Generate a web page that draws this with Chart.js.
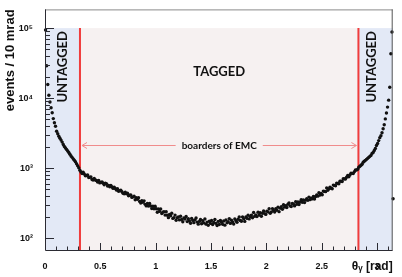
<!DOCTYPE html>
<html>
<head>
<meta charset="utf-8">
<script src="https://cdn.jsdelivr.net/npm/chart.js@4.4.1/dist/chart.umd.min.js"></script>
<style>
  html, body { margin: 0; padding: 0; background: #fff; }
  #wrap { width: 402px; height: 277px; }
</style>
</head>
<body>
<div id="wrap"><canvas id="myChart"></canvas></div>
<script>
// histogram: events per 10 mrad bin, starting at theta = 0
const binWidth = 0.01;
const counts = [
  // 0 - 31 (untagged, left)
  94000, 29000, 15700, 11000, 8800, 7300, 6200,
  5110, 4450, 3980, 3370, 3110, 2860, 2680, 2520, 2360, 2180, 2040, 1940, 1850, 1760,
  1680, 1580, 1500, 1430, 1360, 1300, 1235, 1160, 1085, 1015, 937,
  // 32 - 80
  886, 838, 875, 826, 781, 789, 801, 736, 742, 752, 691, 678, 712, 678, 669, 637, 669, 617,
  627, 639, 611, 582, 613, 603, 558, 568, 542, 569, 540, 515, 538, 513, 487, 511, 469, 478,
  486, 463, 440, 432, 453, 432, 439, 405, 411, 417, 383, 390, 397,
  // 81 - 240
  354, 380, 361, 378, 336, 319, 344, 327, 342, 305, 290, 314, 289, 314, 289, 265, 287, 264,
  286, 264, 235, 262, 242, 262, 226, 236, 240, 214, 239, 213, 197, 219, 210, 228, 192, 197,
  214, 181, 197, 202, 183, 206, 186, 172, 195, 188, 205, 173, 190, 177, 164, 192, 180, 167,
  183, 195, 170, 159, 174, 185, 161, 178, 166, 188, 159, 170, 153, 175, 163, 179, 157, 168,
  185, 163, 152, 174, 157, 179, 169, 158, 176, 154, 182, 166, 172, 191, 163, 181, 170, 160,
  189, 178, 169, 187, 202, 179, 175, 202, 190, 174, 201, 192, 213, 189, 204, 214, 196, 233,
  206, 215, 204, 235, 215, 231, 206, 228, 245, 225, 219, 244, 238, 264, 227, 237, 265, 250,
  237, 264, 251, 278, 240, 269, 282, 260, 301, 278, 292, 275, 306, 318, 290, 283, 314, 306,
  290, 332, 305, 330, 303, 329, 355, 327, 353, 323, 350, 366, 348, 387, 356, 372,
  // 241 - 282
  365, 394, 364, 395, 416, 399, 448, 415, 437, 418, 471, 467, 463, 521, 483, 511, 538, 517,
  510, 574, 568, 561, 613, 607, 599, 654, 650, 646, 708, 704, 700, 742, 790, 757, 802, 850,
  844, 841, 892, 946, 940, 965,
  // 283 - 313 (untagged, right)
  1033, 1067, 1102, 1138, 1215, 1255, 1296, 1339, 1383, 1429, 1476, 1525, 1627, 1681, 1793,
  1913, 2108, 2250, 2479, 2733, 2916, 3214, 3659, 4170, 5060, 6150, 7460, 9370, 14290,
  43000, 88000,
  // last partial bin
  366
];

const emcBorders = [0.316, 2.832];   // rad
const shadeTop = 1e5;
const arrowLevel = 2180;
const taggedLevel = 23600;
const untaggedLevel = 28000;
const untaggedTheta = [0.16, 2.955];

const yDecades = [1e2, 1e3, 1e4, 1e5];
const yTickLabels = ['10²', '10³', '10⁴', '10⁵'];
const xMajor = [0, 0.5, 1, 1.5, 2, 2.5, 3];
const xTickLabels = ['0', '0.5', '1', '1.5', '2', '2.5', '3'];

const points = counts.map((c, i) => ({ x: (i + 0.5) * binWidth, y: c }));

const yTicks = [];
yDecades.forEach(d => { for (let m = 1; m < 10; m++) if (d * m < 185000) yTicks.push(d * m); });
const xTicks = [];
for (let k = 0; k <= 31; k++) xTicks.push(k / 10);

const isMajorX = v => xMajor.some(m => Math.abs(m - v) < 1e-6);

const regions = {
  id: 'regions',
  beforeDatasetsDraw(chart) {
    const { ctx, chartArea: a, scales: { x, y } } = chart;
    const xl = x.getPixelForValue(0), xr = x.getPixelForValue(Math.PI);
    const b1 = x.getPixelForValue(emcBorders[0]), b2 = x.getPixelForValue(emcBorders[1]);
    const yt = y.getPixelForValue(shadeTop), yb = a.bottom;
    ctx.save();
    ctx.fillStyle = '#e3e9f6';
    ctx.fillRect(xl, yt, b1 - xl, yb - yt);
    ctx.fillRect(b2, yt, xr - b2, yb - yt);
    ctx.fillStyle = '#f6f1f1';
    ctx.fillRect(b1, yt, b2 - b1, yb - yt);

    // borders of EMC
    ctx.strokeStyle = '#f03c3c';
    ctx.lineWidth = 2;
    ctx.beginPath();
    ctx.moveTo(b1, yt); ctx.lineTo(b1, yb);
    ctx.moveTo(b2, yt); ctx.lineTo(b2, yb);
    ctx.stroke();

    // arrow + label
    const ya = Math.round(y.getPixelForValue(arrowLevel)) + 0.5;
    const cx = (b1 + b2) / 2;
    ctx.font = 'bold 10px Lato, sans-serif';
    const tw = ctx.measureText('boarders of EMC').width;
    ctx.strokeStyle = '#f08c8c';
    ctx.lineWidth = 1;
    ctx.beginPath();
    ctx.moveTo(b1 + 2, ya); ctx.lineTo(cx - tw / 2 - 6, ya);
    ctx.moveTo(cx + tw / 2 + 6, ya); ctx.lineTo(b2 - 2, ya);
    ctx.moveTo(b1 + 7, ya - 3); ctx.lineTo(b1 + 2, ya); ctx.lineTo(b1 + 7, ya + 3);
    ctx.moveTo(b2 - 7, ya - 3); ctx.lineTo(b2 - 2, ya); ctx.lineTo(b2 - 7, ya + 3);
    ctx.stroke();
    ctx.fillStyle = '#111';
    ctx.textAlign = 'center';
    ctx.textBaseline = 'middle';
    ctx.fillText('boarders of EMC', cx, ya);

    ctx.font = 'bold 13px Lato, sans-serif';
    ctx.fillText('TAGGED', cx, y.getPixelForValue(taggedLevel));
    untaggedTheta.forEach(t => {
      ctx.save();
      ctx.translate(x.getPixelForValue(t), y.getPixelForValue(untaggedLevel));
      ctx.rotate(-Math.PI / 2);
      ctx.fillText('UNTAGGED', 0, 0);
      ctx.restore();
    });
    ctx.restore();
  },
  afterDatasetsDraw(chart) {
    const { ctx, chartArea: a, scales: { x, y } } = chart;
    ctx.save();
    ctx.lineWidth = 1;
    // frame
    ctx.strokeStyle = '#8a8a8a';
    ctx.beginPath();
    ctx.moveTo(a.left, a.top + 0.5); ctx.lineTo(a.right, a.top + 0.5);
    ctx.stroke();
    ctx.strokeStyle = '#555';
    ctx.beginPath();
    ctx.moveTo(a.right - 0.5, a.top); ctx.lineTo(a.right - 0.5, a.bottom);
    ctx.stroke();
    // axes and ticks
    ctx.strokeStyle = '#2b2b33';
    ctx.beginPath();
    ctx.moveTo(a.left + 0.5, a.top); ctx.lineTo(a.left + 0.5, a.bottom + 0.5);
    ctx.lineTo(a.right, a.bottom + 0.5);
    y.ticks.forEach(t => {
      const py = Math.round(y.getPixelForValue(t.value)) + 0.5;
      const len = yDecades.includes(t.value) ? 9 : 5;
      ctx.moveTo(a.left, py); ctx.lineTo(a.left + len, py);
    });
    x.ticks.forEach(t => {
      const px = Math.round(x.getPixelForValue(t.value)) + 0.5;
      const len = isMajorX(t.value) ? 7 : 3.5;
      ctx.moveTo(px, a.bottom); ctx.lineTo(px, a.bottom - len);
    });
    ctx.stroke();
    ctx.restore();
  }
};

new Chart('myChart', {
  type: 'scatter',
  data: {
    datasets: [{
      data: points,
      pointRadius: 1.7,
      pointBackgroundColor: '#111',
      pointBorderWidth: 0,
      clip: false
    }]
  },
  options: {
    responsive: true,
    maintainAspectRatio: false,
    animation: false,
    events: [],
    layout: { padding: { top: 6, right: 9.3, left: 0, bottom: 0 } },
    plugins: { legend: { display: false }, tooltip: { enabled: false } },
    scales: {
      x: {
        type: 'linear',
        min: 0,
        max: Math.PI,
        grid: { display: false },
        border: { display: false },
        afterBuildTicks: s => { s.ticks = xTicks.map(v => ({ value: v })); },
        afterFit: s => { s.height = 27; },
        ticks: {
          autoSkip: false,
          maxRotation: 0,
          padding: 3,
          color: '#111',
          font: { family: 'Liberation Sans, Arial, sans-serif', size: 9, weight: 'bold' },
          callback: v => {
            const k = xMajor.findIndex(m => Math.abs(m - v) < 1e-6);
            return k >= 0 ? xTickLabels[k] : '';
          }
        },
        title: {
          display: true,
          text: 'θᵧ [rad]',
          align: 'end',
          color: '#111',
          padding: { top: 0, bottom: 3 },
          font: { family: 'Liberation Sans, Arial, sans-serif', size: 12, weight: 'bold' }
        }
      },
      y: {
        type: 'logarithmic',
        min: 68,
        max: 185000,
        grid: { display: false },
        border: { display: false },
        afterBuildTicks: s => { s.ticks = yTicks.map(v => ({ value: v })); },
        afterFit: s => { s.width = 45; },
        ticks: {
          autoSkip: false,
          padding: 4,
          color: '#111',
          font: { family: 'Liberation Sans, Arial, sans-serif', size: 9, weight: 'bold' },
          callback: v => {
            const k = yDecades.indexOf(v);
            return k >= 0 ? yTickLabels[k] : '';
          }
        },
        title: {
          display: true,
          text: 'events / 10 mrad',
          align: 'end',
          color: '#111',
          padding: { top: 3, bottom: 0 },
          font: { family: 'Liberation Sans, Arial, sans-serif', size: 13, weight: 'bold' }
        }
      }
    }
  },
  plugins: [regions]
});
</script>
</body>
</html>
